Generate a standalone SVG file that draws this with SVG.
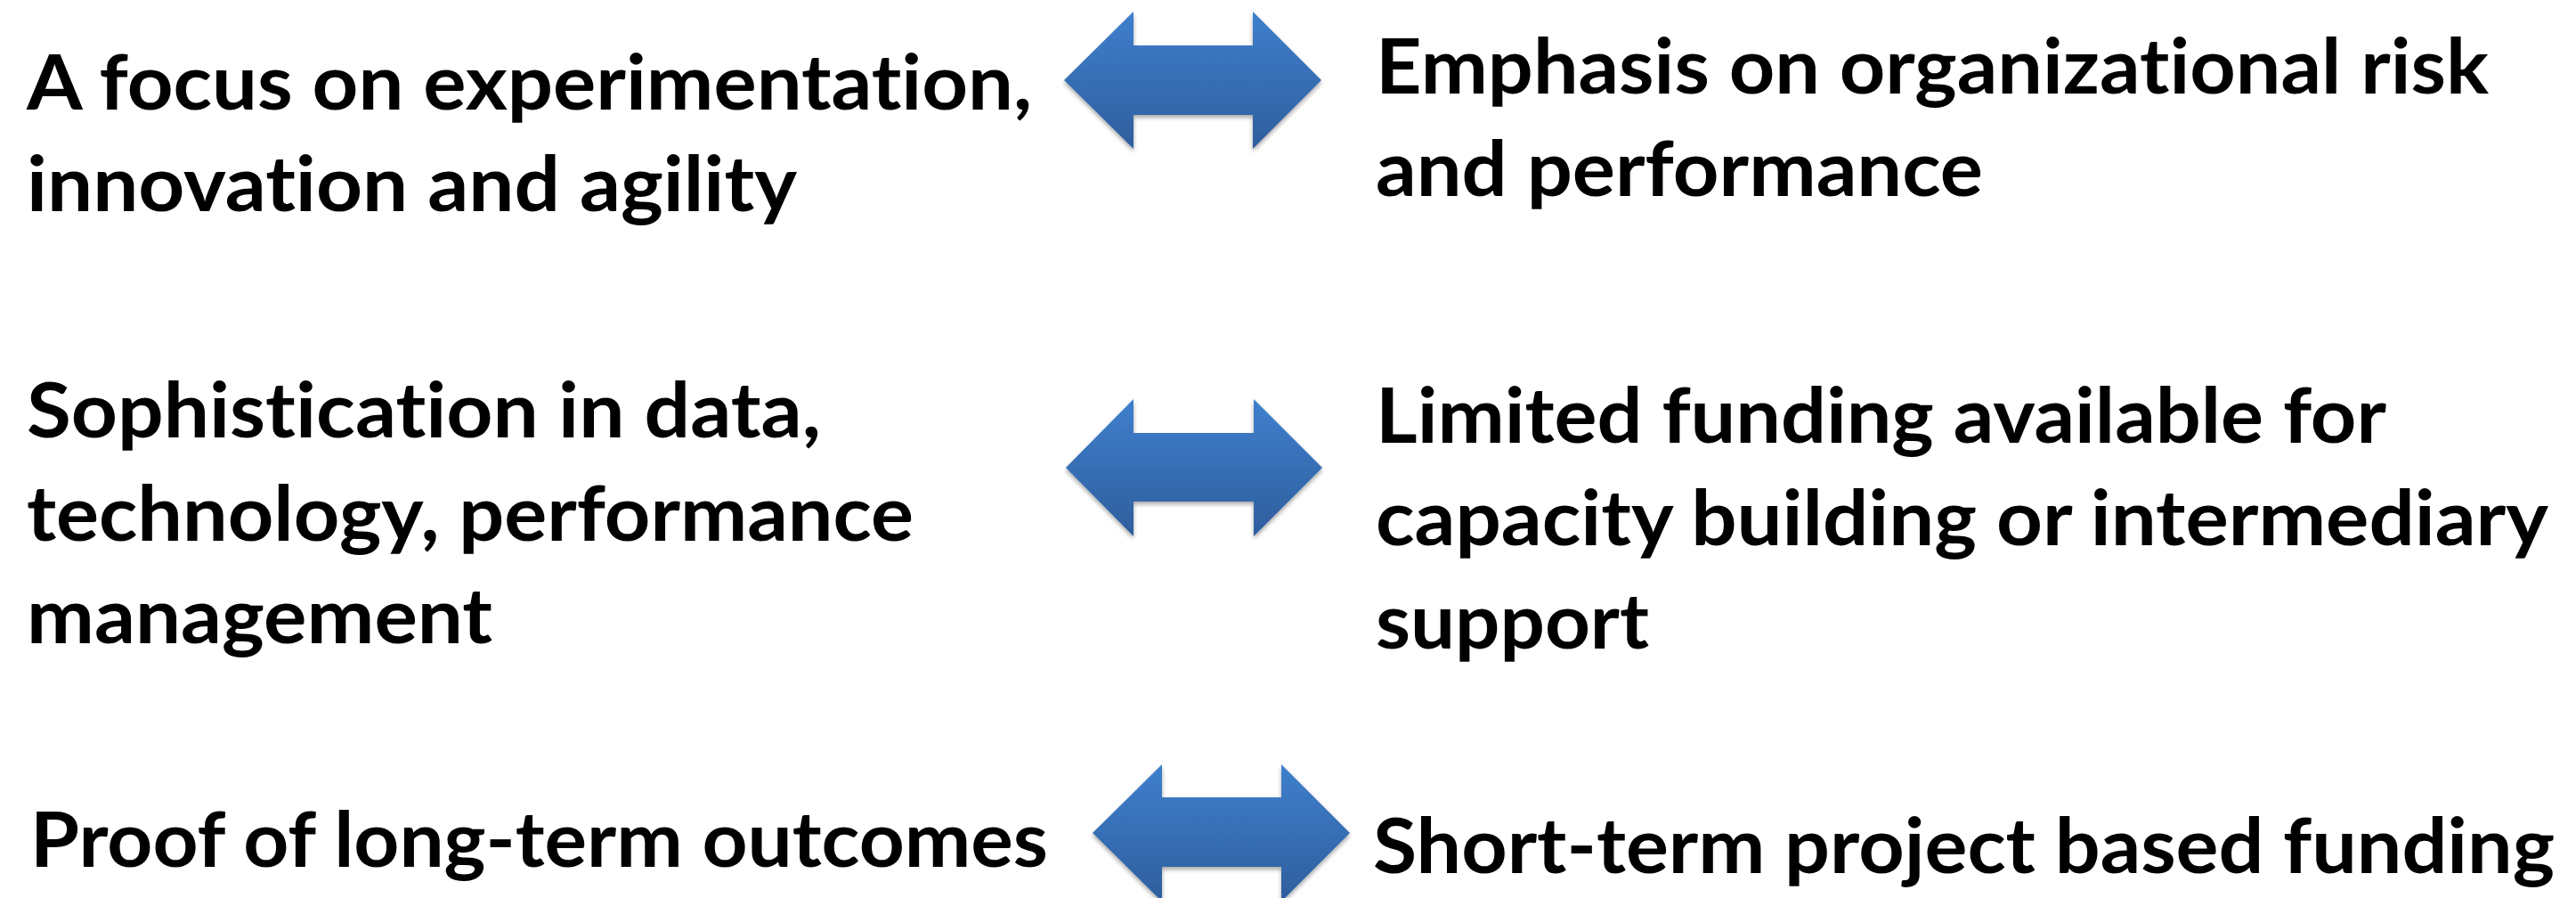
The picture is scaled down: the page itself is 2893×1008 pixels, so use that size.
<svg xmlns="http://www.w3.org/2000/svg" width="2893" height="1008" viewBox="0 0 2893 1008">
  <style>
    .t { font-family: Lato, "Open Sans", "Liberation Sans", sans-serif; font-weight: bold; font-size: 86px; fill: #000; font-variant-ligatures: none; font-feature-settings: "liga" 0, "clig" 0, "dlig" 0; }
    .arrow { fill: url(#blueGrad); filter: url(#shadow); }
  </style>
  <defs>
    <linearGradient id="blueGrad" x1="0" y1="0" x2="0" y2="1">
      <stop offset="0" stop-color="#3f7fcd"/>
      <stop offset="1" stop-color="#2e5e9d"/>
    </linearGradient>
    <filter id="shadow" x="-10%" y="-10%" width="120%" height="130%">
      <feGaussianBlur in="SourceAlpha" stdDeviation="2.5"/>
      <feOffset dx="0" dy="3" result="b"/>
      <feComponentTransfer><feFuncA type="linear" slope="0.35"/></feComponentTransfer>
      <feMerge><feMergeNode/><feMergeNode in="SourceGraphic"/></feMerge>
    </filter>
  </defs>
  <rect width="2893" height="1008" fill="#ffffff"/>

  <g id="left1">
    <text class="t" x="30" y="123" textLength="1129" lengthAdjust="spacingAndGlyphs">A focus on experimentation,</text>
    <text class="t" x="30" y="237" textLength="865" lengthAdjust="spacingAndGlyphs">innovation and agility</text>
  </g>
  <g id="right1">
    <text class="t" x="1545" y="105" textLength="1250" lengthAdjust="spacingAndGlyphs">Emphasis on organizational risk</text>
    <text class="t" x="1545" y="220" textLength="682" lengthAdjust="spacingAndGlyphs">and performance</text>
  </g>
  <g id="left2">
    <text class="t" x="30" y="491" textLength="892" lengthAdjust="spacingAndGlyphs">Sophistication in data,</text>
    <text class="t" x="30" y="607" textLength="996" lengthAdjust="spacingAndGlyphs">technology, performance</text>
    <text class="t" x="30" y="722" textLength="523" lengthAdjust="spacingAndGlyphs">management</text>
  </g>
  <g id="right2">
    <text class="t" x="1545" y="497" textLength="1135" lengthAdjust="spacingAndGlyphs">Limited funding available for</text>
    <text class="t" x="1545" y="612" textLength="1317" lengthAdjust="spacingAndGlyphs">capacity building or intermediary</text>
    <text class="t" x="1545" y="728" textLength="307" lengthAdjust="spacingAndGlyphs">support</text>
  </g>
  <g id="left3">
    <text class="t" x="34" y="973" textLength="1143" lengthAdjust="spacingAndGlyphs">Proof of long-term outcomes</text>
  </g>
  <g id="right3">
    <text class="t" x="1542" y="980" textLength="1327" lengthAdjust="spacingAndGlyphs">Short-term project based funding</text>
  </g>

  <g id="connectors">
    <polygon id="arrow1" class="arrow" points="1195,90 1273,13 1273,51 1407,51 1407,13 1484,90 1407,167 1407,129 1273,129 1273,167"/>
    <polygon id="arrow2" class="arrow" points="1197,525 1273,448 1273,486 1408,486 1408,448 1485,525 1408,602 1408,563 1273,563 1273,602"/>
    <polygon id="arrow3" class="arrow" points="1227,935 1305,858 1305,895 1439,895 1439,858 1516,935 1439,1012 1439,973 1305,973 1305,1012"/>
  </g>
</svg>
